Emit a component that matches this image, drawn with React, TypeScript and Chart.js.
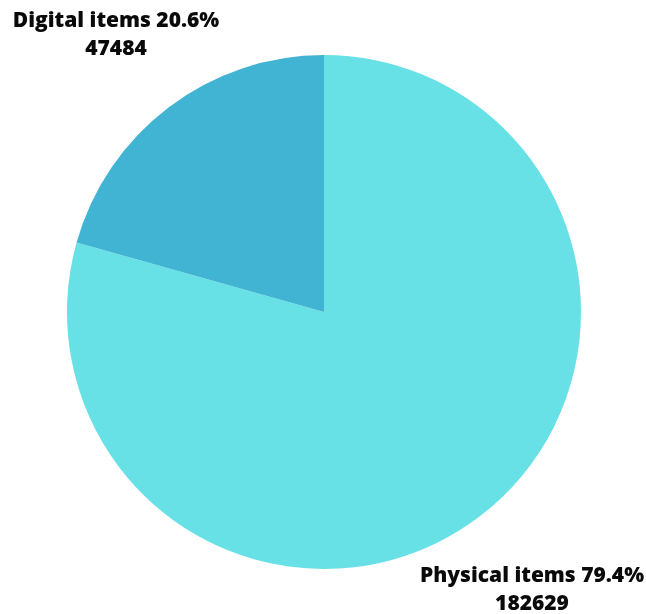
import React, { useEffect, useRef } from "react";
import { Chart, registerables } from "chart.js";

Chart.register(...registerables);

const categories = ["Physical items", "Digital items"];
const values = [182629, 47484];
const percentLabels = ["79.4%", "20.6%"];
const colors = ["#67e0e6", "#41b3d3"];

const labelPlugin = {
  id: "sliceLabels",
  afterDraw(chart: any) {
    const ctx = chart.ctx;
    const meta = chart.getDatasetMeta(0);
    const area = chart.chartArea;
    ctx.save();
    ctx.fillStyle = "#0a0a0a";
    ctx.font = "800 21px 'Open Sans', Lato, sans-serif";
    ctx.textAlign = "center";
    ctx.textBaseline = "middle";
    meta.data.forEach((arc: any, i: number) => {
      const line1 = `${categories[i]} ${percentLabels[i]}`;
      const line2 = String(values[i]);
      let cx: number, cy: number;
      if (i === 1) {
        cx = area.left + 50;
        cy = area.top - 34;
      } else {
        cx = area.right - 50;
        cy = area.bottom + 7;
      }
      ctx.fillText(line1, cx, cy);
      ctx.fillText(line2, cx, cy + 28);
    });
    ctx.restore();
  },
};

export default function App() {
  const ref = useRef<HTMLCanvasElement | null>(null);
  useEffect(() => {
    document.body.style.margin = "0";
    const chart = new Chart(ref.current!, {
      type: "pie",
      data: {
        labels: categories,
        datasets: [
          {
            data: values,
            backgroundColor: colors,
            borderWidth: 0,
          },
        ],
      },
      options: {
        animation: false,
        responsive: false,
        layout: { padding: { left: 66, right: 64, top: 55, bottom: 45 } },
        plugins: {
          legend: { display: false },
          tooltip: { enabled: false },
        },
      },
      plugins: [labelPlugin],
    });
    return () => chart.destroy();
  }, []);
  return (
    <div style={{ width: 646, height: 614, background: "#fff" }}>
      <canvas ref={ref} width={646} height={614} />
    </div>
  );
}
